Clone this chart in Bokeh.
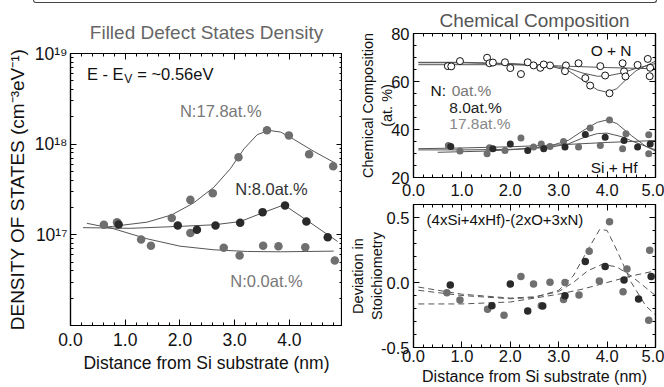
import numpy as np
from bokeh.plotting import figure
from bokeh.layouts import column, row
from bokeh.models import (FixedTicker, LinearAxis, LogAxis, Range1d, Label, Spacer,
                          PrintfTickFormatter, CustomJSTickFormatter)
from bokeh.embed import file_html
from bokeh.resources import INLINE

FONT = "Liberation Sans"
GRAY = "#6f6f6f"
DARK = "#2a2a2a"
LINEC = "#555555"

# ---------------- Left panel: filled defect states density ----------------
dos_x_178 = [0.85, 1.85, 2.19, 2.60, 3.07, 3.59, 3.99, 4.36, 4.80]
dos_y_178 = [1.38e17, 1.53e17, 2.43e17, 2.88e17, 7.18e17, 1.42e18, 1.25e18, 7.75e17, 5.71e17]
dos_x_80 = [0.88, 1.96, 2.31, 2.65, 3.10, 3.51, 3.92, 4.31, 4.70]
dos_y_80 = [1.30e17, 1.27e17, 1.14e17, 1.27e17, 1.36e17, 1.78e17, 2.11e17, 1.40e17, 9.4e16]
dos_x_00 = [0.61, 1.29, 1.47, 2.19, 2.80, 3.09, 3.52, 3.80, 4.29, 4.83]
dos_y_00 = [1.29e17, 8.9e16, 7.6e16, 1.05e17, 7.2e16, 5.9e16, 7.6e16, 7.5e16, 7.3e16, 5.2e16]

fit_x_178 = [0.60, 0.77, 1.40, 1.85, 2.25, 2.62, 2.92, 3.17, 3.41, 3.62, 3.84, 4.08, 4.45, 4.84]
fit_y_178 = [1.21e17, 1.24e17, 1.38e17, 1.66e17, 2.25e17, 3.35e17, 5.35e17, 8.89e17, 1.27e18,
             1.42e18, 1.36e18, 1.13e18, 8.30e17, 6.17e17]
fit_x_80 = [0.23, 1.09, 2.00, 2.62, 3.10, 3.51, 3.90, 4.33, 4.88]
fit_y_80 = [1.20e17, 1.18e17, 1.24e17, 1.29e17, 1.40e17, 1.75e17, 2.14e17, 1.43e17, 8.45e16]
fit_x_00 = [0.30, 0.78, 1.40, 2.00, 2.62, 3.23, 3.84, 4.81]
fit_y_00 = [1.34e17, 1.17e17, 9.04e16, 7.50e16, 6.84e16, 6.55e16, 6.50e16, 6.61e16]

left_xticks = [0, 1, 2, 3, 4]
left_yticks = [1e17, 1e18, 1e19]

# ---------------- Right top: chemical composition ----------------
on_x_00 = [0.71, 1.52, 1.89, 2.36, 2.82, 3.41, 3.86, 4.32, 4.84]
on_y_00 = [66.4, 69.9, 68.0, 68.0, 66.7, 67.6, 66.4, 67.6, 69.4]
on_x_80 = [0.78, 0.96, 1.57, 2.22, 2.48, 3.15, 3.55, 3.96, 4.35, 4.89]
on_y_80 = [66.3, 68.5, 67.6, 63.1, 66.7, 66.7, 61.4, 62.5, 64.2, 65.7]
on_x_178 = [1.64, 2.00, 2.62, 2.69, 3.13, 3.65, 4.05, 4.38, 4.63, 4.88]
on_y_178 = [67.9, 65.6, 65.7, 67.1, 64.3, 58.3, 55.1, 62.1, 66.9, 62.2]

sh_x_00 = [0.72, 1.52, 1.89, 2.22, 2.82, 3.41, 3.86, 4.32, 4.86]
sh_y_00 = [33.3, 29.9, 31.3, 36.5, 32.9, 32.7, 33.3, 32.0, 37.8]
sh_x_80 = [0.77, 1.64, 2.00, 2.36, 2.69, 3.13, 3.55, 3.96, 4.35, 4.63, 4.89]
sh_y_80 = [32.9, 32.0, 34.0, 31.3, 32.0, 32.7, 37.9, 36.8, 35.4, 32.7, 34.0]
sh_x_178 = [0.96, 1.57, 2.48, 2.64, 3.10, 3.65, 4.05, 4.39, 4.86]
sh_y_178 = [31.0, 32.4, 32.7, 34.0, 35.0, 40.6, 44.0, 38.2, 29.9]

onfit_x_00 = [0.10, 1.0, 2.0, 3.0, 4.0, 5.0]
onfit_y_00 = [67.8, 67.8, 67.3, 66.5, 65.8, 65.3]
onfit_x_80 = [0.10, 1.0, 2.0, 2.8, 3.2, 3.5, 3.8, 4.0, 4.3, 4.6, 5.0]
onfit_y_80 = [67.0, 67.0, 67.0, 66.5, 65.5, 63.5, 62.2, 62.3, 63.5, 65.5, 67.5]
onfit_x_178 = [0.10, 1.0, 2.0, 2.8, 3.2, 3.5, 3.8, 4.0, 4.2, 4.4, 4.6, 5.0]
onfit_y_178 = [68.0, 68.0, 67.5, 66.5, 64.5, 60.5, 56.5, 55.5, 57.0, 61.0, 64.5, 68.5]

shfit_x_00 = [0.10, 1.0, 2.0, 3.0, 4.0, 5.0]
shfit_y_00 = [32.0, 32.3, 32.8, 33.6, 34.6, 35.4]
shfit_x_80 = [0.10, 1.0, 2.0, 2.8, 3.2, 3.5, 3.8, 4.0, 4.3, 4.6, 5.0]
shfit_y_80 = [31.5, 31.5, 31.7, 32.5, 34.0, 36.5, 38.3, 38.5, 37.0, 34.5, 31.5]
shfit_x_178 = [0.5, 1.5, 2.2, 2.8, 3.2, 3.5, 3.8, 4.0, 4.2, 4.5, 4.8, 5.0]
shfit_y_178 = [30.5, 31.0, 31.8, 33.0, 35.5, 39.5, 43.0, 44.0, 42.5, 37.5, 33.0, 31.0]

rt_yticks = [20, 40, 60, 80]
right_xticks = [0, 1, 2, 3, 4, 5]

# ---------------- Right bottom: deviation in stoichiometry ----------------
dev_x_00 = [0.69, 0.96, 1.53, 2.22, 2.82, 3.42, 3.84, 4.33, 4.88]
dev_y_00 = [-0.078, -0.135, -0.205, 0.046, 0.002, -0.096, 0.012, -0.071, 0.248]
dev_x_178 = [1.87, 2.48, 2.64, 3.10, 3.13, 3.63, 4.05, 4.41, 4.86]
dev_y_178 = [-0.252, -0.011, -0.179, -0.130, 0.0, 0.240, 0.468, 0.103, -0.290]
dev_x_80 = [0.76, 1.62, 2.00, 2.36, 2.67, 3.13, 3.55, 3.96, 4.35, 4.65, 4.91]
dev_y_80 = [-0.019, -0.179, -0.011, -0.220, -0.180, -0.102, 0.162, 0.124, 0.020, -0.127, 0.046]

devfit_x_178 = [0.10, 1.0, 2.0, 2.5, 3.0, 3.3, 3.6, 3.85, 4.0, 4.2, 4.5, 4.8, 5.0]
devfit_y_178 = [-0.06, -0.10, -0.125, -0.115, -0.06, 0.05, 0.25, 0.41, 0.40, 0.25, 0.0, -0.18, -0.25]
devfit_x_80 = [0.10, 1.0, 2.0, 2.5, 3.0, 3.3, 3.6, 3.9, 4.2, 4.5, 4.8, 5.0]
devfit_y_80 = [-0.035, -0.09, -0.12, -0.11, -0.07, 0.0, 0.09, 0.14, 0.12, 0.05, -0.04, -0.10]
devfit_x_00 = [0.10, 1.0, 2.0, 3.0, 3.5, 4.0, 4.5, 5.0]
devfit_y_00 = [-0.165, -0.165, -0.15, -0.09, -0.05, 0.0, 0.05, 0.09]

rb_yticks = [-0.5, 0.0, 0.5]

LEFT_W, RIGHT_W = 342, 322
TOP_H = 4


def style_axis(ax, ticks, minor, labels=True, fs="16.5px", standoff=5):
    ax.ticker = FixedTicker(ticks=ticks, minor_ticks=minor)
    ax.major_tick_in = 6
    ax.major_tick_out = 0
    ax.minor_tick_in = 3
    ax.minor_tick_out = 0
    ax.axis_line_color = "black"
    ax.axis_line_width = 1.2
    ax.major_tick_line_color = "black"
    ax.minor_tick_line_color = "black"
    ax.major_tick_line_width = 1
    ax.minor_tick_line_width = 1
    if labels:
        ax.major_label_text_font = FONT
        ax.major_label_text_font_size = fs
        ax.major_label_text_color = "#111111"
        ax.major_label_standoff = standoff
    else:
        ax.formatter = CustomJSTickFormatter(code="return '';")
        ax.major_label_text_font_size = "1px"
        ax.major_label_text_color = None
        ax.major_label_standoff = 0


def label_axis(ax, text, fs, standoff):
    ax.axis_label = text
    ax.axis_label_text_font = FONT
    ax.axis_label_text_font_size = fs
    ax.axis_label_text_font_style = "normal"
    ax.axis_label_text_color = "#111111"
    ax.axis_label_standoff = standoff


def base_fig(**kw):
    p = figure(output_backend="svg", toolbar_location=None, **kw)
    p.grid.visible = False
    p.outline_line_color = "black"
    p.outline_line_width = 1.2
    p.background_fill_color = "white"
    p.border_fill_color = "white"
    return p


def set_title(p, text, color, standoff):
    p.title.text = text
    p.title.align = "center"
    p.title.text_font = FONT
    p.title.text_font_size = "19px"
    p.title.text_font_style = "normal"
    p.title.text_color = color
    p.title.standoff = standoff


def lab(p, x, y, text, fs, color, align="left"):
    p.add_layout(Label(x=x, y=y, text=text, text_font=FONT, text_font_size=fs,
                       text_color=color, text_baseline="middle", text_align=align))


# ---------- rounded edge of the enclosing frame at the very top ----------
top_edge = Spacer(width=624, height=3, margin=(0, 7, 1, 33),
                  styles={"box-sizing": "border-box",
                          "border-left": "1.2px solid #444444",
                          "border-right": "1.2px solid #444444",
                          "border-bottom": "1.2px solid #444444",
                          "border-bottom-left-radius": "5px",
                          "border-bottom-right-radius": "5px"})

# ---------- left figure ----------
left = base_fig(width=LEFT_W, height=387 - TOP_H, x_range=Range1d(0, 4.97),
                y_range=Range1d(1e16, 1e19), y_axis_type="log",
                min_border_left=70, min_border_right=0,
                min_border_top=53 - TOP_H, min_border_bottom=62)
lx = left.xaxis[0]
ly = left.yaxis[0]
log_minor = [k * 10.0 ** e for e in (16, 17, 18) for k in range(2, 10)]
x_minor_l = [i * 0.2 for i in range(0, 25)]
style_axis(lx, left_xticks, x_minor_l, fs="17.5px", standoff=7)
style_axis(ly, left_yticks, log_minor, fs="17.5px", standoff=3)
lx.formatter = PrintfTickFormatter(format="%.1f")
ly.formatter = CustomJSTickFormatter(code="""
const sup = {'0':'\u2070','1':'\u00b9','2':'\u00b2','3':'\u00b3','4':'\u2074','5':'\u2075','6':'\u2076','7':'\u2077','8':'\u2078','9':'\u2079','-':'\u207b'};
const e = Math.round(Math.log10(tick));
return '10' + String(e).split('').map(c => sup[c]).join('');
""")
label_axis(lx, "Distance from Si substrate (nm)", "17.5px", 4)
label_axis(ly, "DENSITY OF STATES (cm\u207b\u00b3eV\u207b\u00b9)", "19px", 4)
ax_top = LinearAxis()
style_axis(ax_top, left_xticks, x_minor_l, labels=False)
left.add_layout(ax_top, "above")
ax_right = LogAxis()
style_axis(ax_right, left_yticks, log_minor, labels=False)
left.add_layout(ax_right, "right")
set_title(left, "Filled Defect States Density", "#666666", 22)

left.line(fit_x_178, fit_y_178, line_color=LINEC, line_width=1)
left.line(fit_x_80, fit_y_80, line_color=LINEC, line_width=1)
left.line(fit_x_00, fit_y_00, line_color=LINEC, line_width=1)
left.scatter(dos_x_178, dos_y_178, size=8.5, fill_color=GRAY, line_color=None)
left.scatter(dos_x_00, dos_y_00, size=8.5, fill_color=GRAY, line_color=None)
left.scatter(dos_x_80, dos_y_80, size=8.5, fill_color=DARK, line_color=None)

lab(left, 0.30, 6.0e18, "E - E", "16.5px", "#111111")
lab(left, 0.98, 5.25e18, "V", "12px", "#111111")
lab(left, 1.22, 6.0e18, "= ~0.56eV", "16.5px", "#111111")
lab(left, 2.00, 2.35e18, "N:17.8at.%", "16.5px", "#777777")
lab(left, 3.01, 3.24e17, "N:8.0at.%", "16.5px", "#333333")
lab(left, 2.92, 3.13e16, "N:0.0at.%", "16.5px", "#777777")

# ---------- right top ----------
x_minor_r = [i * 0.2 for i in range(0, 26)]
rt = base_fig(width=RIGHT_W, height=202 - TOP_H, x_range=Range1d(0, 5), y_range=Range1d(20, 80),
              min_border_left=71, min_border_right=9, min_border_top=33 - TOP_H,
              min_border_bottom=25)
rtx = rt.xaxis[0]
rty = rt.yaxis[0]
style_axis(rtx, right_xticks, x_minor_r, fs="16.5px", standoff=6)
style_axis(rty, rt_yticks, list(range(20, 81, 5)), fs="16.5px", standoff=4)
rtx.formatter = PrintfTickFormatter(format="%.1f")
label_axis(rty, "Chemical Composition\n(at. %)", "14.5px", -7)
a1 = LinearAxis(); style_axis(a1, right_xticks, x_minor_r, labels=False); rt.add_layout(a1, "above")
a2 = LinearAxis(); style_axis(a2, rt_yticks, list(range(20, 81, 5)), labels=False); rt.add_layout(a2, "right")
set_title(rt, "Chemical Composition", "#555555", 5)

for fx, fy in ((onfit_x_00, onfit_y_00), (onfit_x_80, onfit_y_80), (onfit_x_178, onfit_y_178),
               (shfit_x_00, shfit_y_00), (shfit_x_80, shfit_y_80), (shfit_x_178, shfit_y_178)):
    rt.line(fx, fy, line_color=LINEC, line_width=1)
for sx, sy in ((on_x_00, on_y_00), (on_x_80, on_y_80), (on_x_178, on_y_178)):
    rt.scatter(sx, sy, size=7, fill_color="white", line_color="#111111", line_width=1)
rt.scatter(sh_x_00, sh_y_00, size=7, fill_color=GRAY, line_color=None)
rt.scatter(sh_x_178, sh_y_178, size=7, fill_color=GRAY, line_color=None)
rt.scatter(sh_x_80, sh_y_80, size=7, fill_color=DARK, line_color=None)

lab(rt, 3.66, 72.9, "O + N", "15.5px", "#111111")
lab(rt, 3.66, 24.3, "Si + Hf", "15.5px", "#111111")
lab(rt, 0.35, 56.3, "N:", "15.5px", "#111111")
lab(rt, 0.79, 56.3, "0at.%", "15.5px", "#777777")
lab(rt, 0.74, 49.3, "8.0at.%", "15.5px", "#222222")
lab(rt, 0.74, 42.6, "17.8at.%", "15.5px", "#888888")

# ---------- right bottom ----------
rb = base_fig(width=RIGHT_W, height=185, x_range=Range1d(0, 5), y_range=Range1d(-0.5, 0.6),
              min_border_left=71, min_border_right=9, min_border_top=2, min_border_bottom=40)
rbx = rb.xaxis[0]
rby = rb.yaxis[0]
rb_minor = [round(-0.5 + 0.1 * i, 2) for i in range(0, 12)]
style_axis(rbx, right_xticks, x_minor_r, fs="16.5px", standoff=2)
style_axis(rby, rb_yticks, rb_minor, fs="16.5px", standoff=4)
rbx.formatter = PrintfTickFormatter(format="%.1f")
rby.formatter = PrintfTickFormatter(format="%.1f")
label_axis(rby, "Deviation in\nStoichiometry", "14.5px", -7)
label_axis(rbx, "Distance from Si substrate (nm)", "16px", 3)
b1 = LinearAxis(); style_axis(b1, right_xticks, x_minor_r, labels=False); rb.add_layout(b1, "above")
b2 = LinearAxis(); style_axis(b2, rb_yticks, rb_minor, labels=False); rb.add_layout(b2, "right")

for fx, fy in ((devfit_x_178, devfit_y_178), (devfit_x_80, devfit_y_80), (devfit_x_00, devfit_y_00)):
    rb.line(fx, fy, line_color=LINEC, line_width=1, line_dash="6 4")
rb.scatter(dev_x_00, dev_y_00, size=7.5, fill_color=GRAY, line_color=None)
rb.scatter(dev_x_178, dev_y_178, size=7.5, fill_color=GRAY, line_color=None)
rb.scatter(dev_x_80, dev_y_80, size=7.5, fill_color=DARK, line_color=None)

lab(rb, 0.27, 0.486, "(4xSi+4xHf)-(2xO+3xN)", "15px", "#111111")

layout = column(top_edge, row(left, column(rt, rb)))
open("out.html", "w", encoding="utf-8").write(file_html(layout, INLINE))
